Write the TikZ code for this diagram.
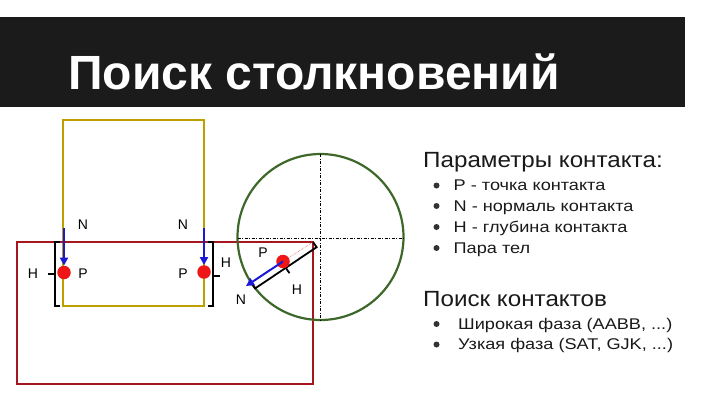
\documentclass[tikz,border=0pt]{standalone}
\usepackage{fontspec}
\setmainfont{Liberation Sans}
\newfontfamily\headfont[FakeStretch=1.1]{Liberation Sans}
\newfontfamily\itemfont[FakeStretch=1.17]{Liberation Sans}
\usetikzlibrary{arrows.meta}
\definecolor{barblack}{RGB}{27,27,27}
\definecolor{goldline}{RGB}{188,160,0}
\definecolor{redline}{RGB}{165,22,30}
\definecolor{greenline}{RGB}{62,104,42}
\definecolor{bluearrow}{RGB}{25,25,215}
\definecolor{reddot}{RGB}{238,22,22}
\tikzset{
  lbl/.style={font=\fontsize{14}{14}\selectfont, inner sep=0pt},
  pdot/.style={circle, fill=reddot, minimum size=13.5pt, inner sep=0pt},
  narrow/.style={draw=bluearrow, line width=2pt, -{Triangle[length=8pt,width=8pt]}},
  depth/.style={draw=black, line width=1.8pt},
  axis/.style={draw=black, line width=0.7pt, dash pattern=on 3pt off 1.5pt on 1pt off 1.5pt},
  heading/.style={font=\headfont\fontsize{22}{22}\selectfont, anchor=base west, inner sep=0pt, text=black!90},
  item/.style={font=\itemfont\fontsize{15.5}{15.5}\selectfont, anchor=base west, inner sep=0pt, text=black!90},
  bul/.style={fill=black!80}
}
\begin{document}
\begin{tikzpicture}[x=1pt,y=-1pt]
\useasboundingbox (0,0) rectangle (720,405);
% title bar
\fill[barblack] (0,17) rectangle (685,107);
\node[anchor=base west, inner sep=0pt, text=white, font=\fontsize{48}{48}\selectfont\bfseries] (title) at (68,89) {Поиск столкновений};
% bodies
\draw[goldline, line width=2pt] (63,120) rectangle (204,306);
\draw[redline, line width=2pt] (17,242) rectangle (313,384);
\draw[greenline, line width=2.2pt] (320.5,237) circle (83);
% axes of the circle
\coordinate (vt) at (320.5,154);
\coordinate (vb) at (320.5,320);
\coordinate (hl) at (237.5,238);
\coordinate (hr) at (403.5,238);
\draw[axis] (vt) -- (vb);
\draw[axis] (hl) -- (hr);
% left contact
\draw[depth] (60,242) -- (55,242) -- (55,306) -- (60,306);
\draw[depth] (55,274) -- (48,274);
\coordinate (ln0) at (64,228);
\node[pdot] (lp) at (64,272.5) {};
\draw[narrow] (ln0) -- (lp.north);
\node[lbl] (lN) at (83,225) {N};
\node[lbl] (lP) at (83,274) {P};
\node[lbl] (lH) at (33,274) {H};
% right contact
\draw[depth] (208,242) -- (213,242) -- (213,306) -- (208,306);
\draw[depth] (213,276) -- (220,276);
\coordinate (rn0) at (204,228);
\node[pdot] (rp) at (204,272) {};
\draw[narrow] (rn0) -- (rp.north);
\node[lbl] (rN) at (183,225) {N};
\node[lbl] (rP) at (183,274) {P};
\node[lbl] (rH) at (226,263) {H};
% circle contact
\coordinate (corner) at (313,242);
\coordinate (cs) at (251.5,283.2);
\coordinate (corneroff) at (316.6,247.2);
\coordinate (csoff) at (255.1,288.4);
\coordinate (tick0) at (285.8,267.8);
\coordinate (tick1) at (289.5,273.2);
\draw[depth] (corner) -- (corneroff) -- (csoff) -- (cs);
\draw[depth] (tick0) -- (tick1);
\node[pdot] (cp) at (283,261.5) {};
\coordinate (ctip) at (246,286);
\draw[reddot!70, line width=0.6pt, densely dotted] (cp) -- (corner);
\draw[narrow] (cp.center) -- (ctip);
\node[lbl] (cP) at (263,253) {P};
\node[lbl] (cH) at (297,290) {H};
\node[lbl] (cN) at (241,300) {N};
% text
\node[heading] (h1) at (423,167.5) {Параметры контакта:};
\fill[bul] (436.5,185.5) circle (3);
\node[item] (i1) at (453.5,190.5) {P - точка контакта};
\fill[bul] (436.5,206) circle (3);
\node[item] (i2) at (453.5,211) {N - нормаль контакта};
\fill[bul] (436.5,227) circle (3);
\node[item] (i3) at (453.5,232) {H - глубина контакта};
\fill[bul] (436.5,248) circle (3);
\node[item] (i4) at (453.5,253) {Пара тел};
\node[heading] (h2) at (423,306.5) {Поиск контактов};
\fill[bul] (436.5,324) circle (3);
\node[item] (j1) at (458,329) {Широкая фаза (AABB, ...)};
\fill[bul] (436.5,344.5) circle (3);
\node[item] (j2) at (458,349.5) {Узкая фаза (SAT, GJK, ...)};
\end{tikzpicture}
\end{document}
